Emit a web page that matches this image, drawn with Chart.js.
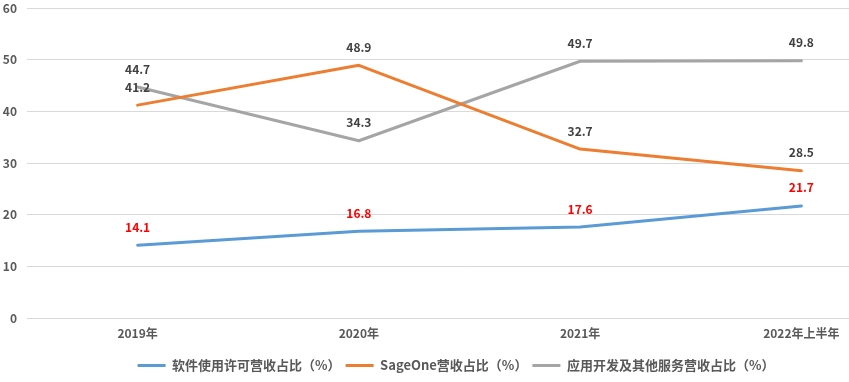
<!DOCTYPE html>
<html>
<head>
<meta charset="utf-8">
<script src="https://cdn.jsdelivr.net/npm/chart.js@4"></script>
<style>
html,body{margin:0;padding:0;background:#fff;overflow:hidden;width:849px;height:382px;}
#wrap{width:912px;height:382px;}
</style>
</head>
<body>
<div id="wrap"><canvas id="c" width="912" height="382"></canvas></div>
<script>
const categories = ['2019年', '2020年', '2021年', '2022年上半年'];
const softwareLicense = [14.1, 16.8, 17.6, 21.7];
const sageOne = [41.2, 48.9, 32.7, 28.5];
const appDevOther = [44.7, 34.3, 49.7, 49.8];
const seriesNames = ['软件使用许可营收占比（%）', 'SageOne营收占比（%）', '应用开发及其他服务营收占比（%）'];
const yTicks = [0, 10, 20, 30, 40, 50, 60];

const FONT = '"Noto Sans CJK SC", "Microsoft YaHei", sans-serif';

const labelPlugin = {
  id: 'valueLabels',
  afterDatasetsDraw(chart) {
    const ctx = chart.ctx;
    ctx.save();
    ctx.font = 'bold 12px ' + FONT;
    ctx.textAlign = 'center';
    ctx.textBaseline = 'middle';
    chart.data.datasets.forEach((ds, i) => {
      const meta = chart.getDatasetMeta(i);
      ctx.fillStyle = ds.labelColor;
      meta.data.forEach((pt, j) => {
        ctx.fillText(ds.data[j].toFixed(1), pt.x, pt.y - 18);
      });
    });
    ctx.restore();
  }
};

function mk(label, data, color, labelColor) {
  return {
    label, data,
    borderColor: color, backgroundColor: color,
    borderWidth: 3, pointRadius: 0, pointHoverRadius: 0,
    tension: 0, fill: false, labelColor,
    borderCapStyle: 'round', borderJoinStyle: 'round'
  };
}

new Chart(document.getElementById('c'), {
  type: 'line',
  data: {
    labels: categories,
    datasets: [
      mk(seriesNames[0], softwareLicense, '#5B9BD5', '#FF0000'),
      mk(seriesNames[1], sageOne, '#ED7D31', '#404040'),
      mk(seriesNames[2], appDevOther, '#A5A5A5', '#404040')
    ]
  },
  options: {
    responsive: false,
    animation: false,
    layout: { padding: { top: 0, right: 0, left: 0, bottom: 0 } },
    plugins: {
      tooltip: { enabled: false },
      legend: {
        position: 'bottom',
        labels: {
          boxWidth: 28, boxHeight: 3, padding: 5,
          color: '#595959',
          font: { family: FONT, size: 13, weight: 'bold' },
          generateLabels(chart) {
            const items = Chart.defaults.plugins.legend.labels.generateLabels(chart);
            items.forEach(it => { it.lineWidth = 0; });
            return items;
          }
        }
      }
    },
    scales: {
      x: {
        offset: true,
        grid: { display: false, drawTicks: false },
        border: { display: false },
        ticks: { color: '#595959', padding: 8, font: { family: FONT, size: 12, weight: 'bold' } },
        afterFit(s) { s.height = 36; }
      },
      y: {
        min: 0, max: 60,
        afterBuildTicks(s) { s.ticks = yTicks.map(v => ({ value: v })); },
        grid: { color: '#D9D9D9', lineWidth: 1, drawTicks: false },
        border: { display: false },
        ticks: { color: '#595959', padding: 10, font: { family: FONT, size: 12, weight: 'bold' } },
        afterFit(s) { s.width = 27; s.paddingTop = 8; s.paddingBottom = 0; }
      }
    }
  },
  plugins: [labelPlugin]
});
</script>
</body>
</html>
